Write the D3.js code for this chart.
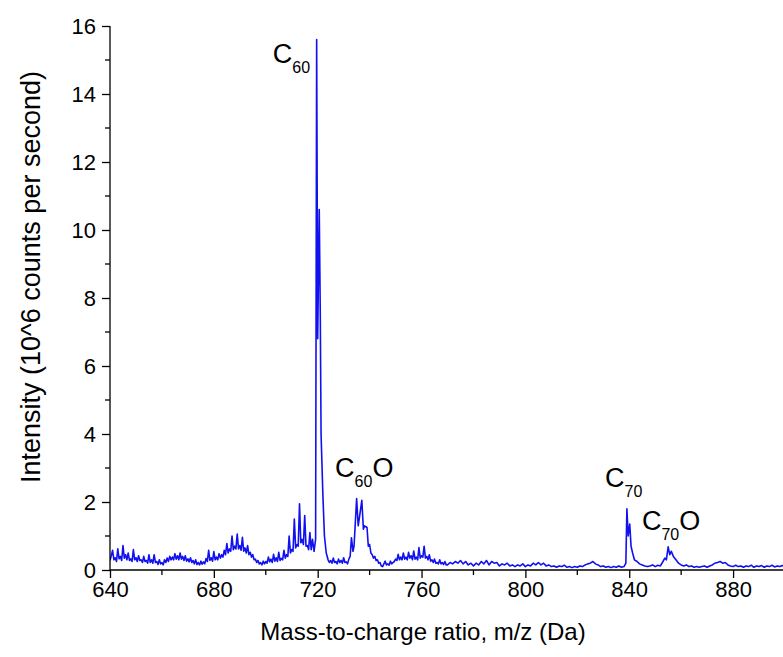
<!DOCTYPE html>
<html>
<head>
<meta charset="utf-8">
<script src="https://cdn.jsdelivr.net/npm/d3@7.9.0/dist/d3.min.js"></script>
<style>
  html, body { margin: 0; padding: 0; background: #fff; }
  svg text { font-family: "Liberation Sans", Arial, sans-serif; fill: #000; }
</style>
</head>
<body>
<div id="chart"></div>
<script>
// Mass spectrum: [m/z, intensity in 10^6 counts/s]
const spectrum = [
  [640,0.28],[640.5,0.42],[641,0.58],[641.5,0.30],[642,0.36],[642.5,0.25],[643,0.62],[643.5,0.33],[644,0.40],[644.5,0.28],
  [645,0.72],[645.5,0.35],[646,0.45],[646.5,0.30],[647,0.50],[647.5,0.28],[648,0.33],[648.5,0.25],[649,0.60],[649.5,0.30],
  [650,0.36],[650.5,0.25],[651,0.42],[651.5,0.28],[652,0.30],[652.5,0.22],[653,0.40],[653.5,0.25],[654,0.28],[654.5,0.20],
  [655,0.45],[655.5,0.22],[656,0.30],[656.5,0.20],[657,0.45],[657.5,0.22],[658,0.25],[658.5,0.16],[659,0.30],[659.5,0.18],
  [660,0.22],[660.5,0.15],[661,0.30],[661.5,0.22],[662,0.35],[662.5,0.25],[663,0.40],[663.5,0.30],[664,0.38],[664.5,0.30],
  [665,0.48],[665.5,0.32],[666,0.42],[666.5,0.30],[667,0.50],[667.5,0.32],[668,0.40],[668.5,0.28],[669,0.42],[669.5,0.26],
  [670,0.33],[670.5,0.24],[671,0.36],[671.5,0.22],[672,0.28],[672.5,0.18],[673,0.30],[673.5,0.16],[674,0.22],[674.5,0.15],
  [675,0.26],[675.5,0.17],[676,0.24],[676.5,0.18],[677,0.34],[677.5,0.25],[678,0.58],[678.5,0.28],[679,0.36],[679.5,0.26],
  [680,0.54],[680.5,0.30],[681,0.38],[681.5,0.30],[682,0.48],[682.5,0.35],[683,0.45],[683.5,0.38],[684,0.58],[684.5,0.45],
  [685,0.78],[685.5,0.50],[686,0.62],[686.5,0.55],[687,1.00],[687.5,0.60],[688,0.70],[688.5,0.62],[689,1.06],[689.5,0.62],
  [690,0.72],[690.5,0.58],[691,0.96],[691.5,0.55],[692,0.65],[692.5,0.50],[693,0.72],[693.5,0.45],[694,0.52],[694.5,0.38],
  [695,0.45],[695.5,0.30],[696,0.32],[696.5,0.22],[697,0.28],[697.5,0.18],[698,0.22],[698.5,0.15],[699,0.26],[699.5,0.18],
  [700,0.25],[700.5,0.20],[701,0.38],[701.5,0.24],[702,0.32],[702.5,0.22],[703,0.46],[703.5,0.26],[704,0.36],[704.5,0.25],
  [705,0.52],[705.5,0.28],[706,0.34],[706.5,0.30],[707,0.58],[707.5,0.35],[708,0.45],[708.5,0.40],[709,1.00],[709.5,0.50],
  [710,0.60],[710.5,0.55],[711,1.50],[711.5,0.65],[712,0.75],[712.5,0.70],[713,1.95],[713.5,0.80],[714,0.90],[714.5,0.75],
  [715,1.60],[715.5,0.70],[716,0.72],[716.5,0.60],[717,1.10],[717.5,0.60],[718,0.90],[718.6,0.55],[719.2,0.90],[719.6,15.6],
  [720.0,6.8],[720.6,10.6],[721.0,7.5],[721.3,4.0],[722.0,2.2],[722.6,1.0],[723.3,0.50],
  [724,0.30],[724.5,0.22],[725,0.28],[725.5,0.20],[726,0.35],[726.5,0.22],[727,0.25],[727.5,0.18],[728,0.32],[728.5,0.22],
  [729,0.28],[729.5,0.20],[730,0.36],[730.5,0.22],[731,0.24],[731.5,0.18],[732,0.32],[732.5,0.40],[733,0.95],
  [733.6,0.55],[734,0.70],[735,2.10],[735.6,1.30],[736,1.50],[737,2.05],[737.6,1.20],[738,1.30],[739,1.25],[739.5,0.70],
  [740,0.75],[740.5,0.50],[741,0.45],[741.5,0.35],[742,0.40],[742.5,0.28],[743,0.30],[743.5,0.20],[744,0.22],[744.5,0.12],
  [745,0.10],[745.5,0.18],[746,0.26],[746.5,0.15],[747,0.18],[747.5,0.14],[748,0.26],[748.5,0.18],[749,0.22],[749.5,0.25],
  [750,0.32],[750.5,0.28],[751,0.46],[751.5,0.30],[752,0.38],[752.5,0.30],[753,0.50],[753.5,0.32],[754,0.38],[754.5,0.30],
  [755,0.52],[755.5,0.35],[756,0.42],[756.5,0.30],[757,0.56],[757.5,0.32],[758,0.38],[758.5,0.30],[759,0.66],[759.5,0.35],
  [760,0.42],[760.5,0.38],[761,0.70],[761.5,0.35],[762,0.40],[762.5,0.30],[763,0.45],[763.5,0.26],[764,0.30],[764.5,0.22],
  [765,0.32],[765.5,0.20],[766,0.22],[766.5,0.18],[767,0.30],[767.5,0.18],[768,0.22],[768.5,0.16],[769,0.25],[769.5,0.15],
  [770,0.15],[771,0.22],[772,0.18],[773,0.25],[774,0.20],[775,0.28],[776,0.18],[777,0.25],[778,0.15],[779,0.20],
  [780,0.12],[781,0.20],[782,0.15],[783,0.25],[784,0.18],[785,0.28],[786,0.15],[787,0.25],[788,0.20],[789,0.22],
  [790,0.12],[791,0.18],[792,0.15],[793,0.20],[794,0.12],[795,0.15],[796,0.10],[797,0.15],[798,0.12],[799,0.18],
  [800,0.10],[801,0.15],[802,0.12],[803,0.20],[804,0.15],[805,0.22],[806,0.15],[807,0.20],[808,0.12],[809,0.15],
  [810,0.10],[811,0.12],[812,0.08],[813,0.12],[814,0.10],[815,0.14],[816,0.08],[817,0.10],[818,0.07],[819,0.10],
  [820,0.08],[821,0.12],[822,0.10],[823,0.15],[824,0.18],[825,0.20],[826,0.25],[827,0.18],[828,0.15],[829,0.10],
  [830,0.12],[831,0.08],[832,0.10],[833,0.07],[834,0.10],[835,0.08],[836,0.12],[837,0.08],[838,0.10],[838.7,0.20],
  [839.1,1.80],[839.6,1.00],[840.2,1.35],[840.7,0.70],[841.3,0.50],[842,0.30],[843,0.25],[844,0.18],[845,0.15],[846,0.12],
  [847,0.10],[848,0.12],[849,0.15],[850,0.10],[851,0.14],[852,0.12],[853,0.25],[853.7,0.35],[854.3,0.30],[855,0.68],
  [855.6,0.45],[856.2,0.55],[857,0.40],[858,0.30],[859,0.20],[860,0.15],[861,0.12],[862,0.15],[863,0.10],[864,0.12],
  [865,0.08],[866,0.10],[867,0.08],[868,0.10],[869,0.12],[870,0.08],[871,0.12],[872,0.15],[873,0.20],[874,0.22],
  [875,0.25],[876,0.20],[877,0.22],[878,0.15],[879,0.12],[880,0.10],[881,0.14],[882,0.10],[883,0.12],[884,0.08],
  [885,0.12],[886,0.10],[887,0.14],[888,0.08],[889,0.12],[890,0.10],[891,0.13],[892,0.08],[893,0.12],[894,0.10],
  [895,0.14],[896,0.09],[897,0.12],[898,0.10],[899,0.13],[900,0.10]
];

const xTicks = [640, 680, 720, 760, 800, 840, 880];
const xMinor = [660, 700, 740, 780, 820, 860, 900];
const yTicks = [0, 2, 4, 6, 8, 10, 12, 14, 16];
const yMinor = [1, 3, 5, 7, 9, 11, 13, 15];

// peak labels: formula pieces and where the text starts (data coords)
const peakLabels = [
  { base: "C", sub: "60", tail: "",  mz: 702.7, val: 14.9 },
  { base: "C", sub: "60", tail: "O", mz: 726.7, val: 2.74 },
  { base: "C", sub: "70", tail: "",  mz: 830.7, val: 2.44 },
  { base: "C", sub: "70", tail: "O", mz: 844.9, val: 1.18 }
];

const width = 783, height = 657;
const margin = { top: 26, right: -2, bottom: 87, left: 110 };

const svg = d3.select("#chart").append("svg")
  .attr("width", width)
  .attr("height", height);

const x = d3.scaleLinear().domain([640, 900]).range([margin.left, width - margin.right]);
const y = d3.scaleLinear().domain([0, 16]).range([height - margin.bottom, margin.top]);

// clip the trace to the plot area
svg.append("clipPath").attr("id", "plotClip")
  .append("rect")
  .attr("x", margin.left).attr("y", 0)
  .attr("width", width - margin.left).attr("height", height - margin.bottom + 1);

const line = d3.line().x(d => x(d[0])).y(d => y(d[1]));

svg.append("path")
  .datum(spectrum)
  .attr("clip-path", "url(#plotClip)")
  .attr("fill", "none")
  .attr("stroke", "#1010f0")
  .attr("stroke-width", 1.6)
  .attr("stroke-linejoin", "round")
  .attr("d", line);

// axes
const xAxis = svg.append("g").attr("transform", `translate(0,${y(0)})`);
xAxis.call(d3.axisBottom(x).tickValues(xTicks).tickSize(8).tickPadding(3).tickFormat(d3.format("d")));
xAxis.append("g").selectAll("line").data(xMinor).join("line")
  .attr("x1", d => x(d)).attr("x2", d => x(d))
  .attr("y1", 0).attr("y2", 5).attr("stroke", "#000").attr("stroke-width", 1.3);

const yAxis = svg.append("g").attr("transform", `translate(${x(640)},0)`);
yAxis.call(d3.axisLeft(y).tickValues(yTicks).tickSize(8).tickPadding(6).tickFormat(d3.format("d")));
yAxis.append("g").selectAll("line").data(yMinor).join("line")
  .attr("y1", d => y(d)).attr("y2", d => y(d))
  .attr("x1", 0).attr("x2", -5).attr("stroke", "#000").attr("stroke-width", 1.3);

[xAxis, yAxis].forEach(g => {
  g.select(".domain").attr("stroke", "#000").attr("stroke-width", 1.3);
  g.selectAll(".tick line").attr("stroke", "#000").attr("stroke-width", 1.3);
  g.selectAll(".tick text")
    .attr("fill", "#000")
    .style("font-size", "22px")
    .style("font-family", '"Liberation Sans", Arial, sans-serif');
});
// remove the outer tick stubs d3 adds to the domain path
xAxis.select(".domain").attr("d", `M${x(640)},0H${width}`);
yAxis.select(".domain").attr("d", `M0,${y(16)}V${y(0)}`);

// axis titles
svg.append("text")
  .attr("x", 423)
  .attr("y", 640)
  .attr("text-anchor", "middle")
  .style("font-size", "24px")
  .text("Mass-to-charge ratio, m/z (Da)");

svg.append("text")
  .attr("transform", "translate(40,277) rotate(-90)")
  .attr("text-anchor", "middle")
  .style("font-size", "27px")
  .text("Intensity (10^6 counts per second)");

// peak labels with subscripts
const labels = svg.append("g").selectAll("text").data(peakLabels).join("text")
  .attr("x", d => x(d.mz))
  .attr("y", d => y(d.val))
  .style("font-size", "27px");
labels.append("tspan").text(d => d.base);
labels.append("tspan").attr("dy", 10).style("font-size", "16px").text(d => d.sub);
labels.filter(d => d.tail).append("tspan").attr("dy", -10).text(d => d.tail);
</script>
</body>
</html>
